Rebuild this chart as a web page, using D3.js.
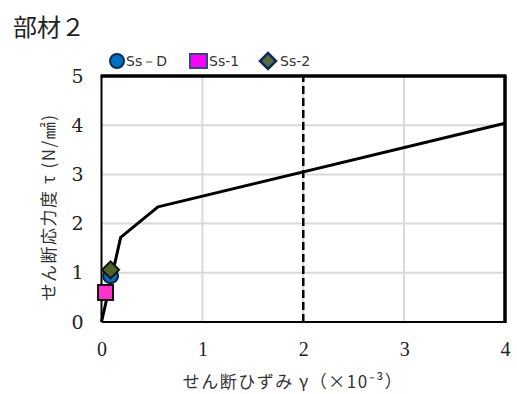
<!DOCTYPE html>
<html><head><meta charset="utf-8">
<script src="https://cdn.jsdelivr.net/npm/d3@7"></script>
<style>body{margin:0;background:#fff}
.tk text{font-family:"Liberation Serif","Times New Roman",Tinos,"DejaVu Serif",serif !important;font-size:20px}
.tk2 text{font-family:"DejaVu Serif",serif !important;font-size:19px}
</style>
</head><body>
<svg id="c" width="517" height="394"></svg>
<script>
const title = "部材２";
const xTicks = [0,1,2,3,4];
const yTicks = [0,1,2,3,4,5];
const curveX = [0, 0.19, 0.56, 4];
const curveY = [0, 1.72, 2.34, 4.04];
const ssD = {name:"Ss－D", x:0.09, y:0.94};
const ss1 = {name:"Ss-1", x:0.04, y:0.60};
const ss2 = {name:"Ss-2", x:0.09, y:1.06};
const refX = 2;

const svg = d3.select("#c");
const x = d3.scaleLinear().domain([0,4]).range([101.5,505]);
const y = d3.scaleLinear().domain([0,5]).range([322,76]);
const jp = "'Noto Sans CJK JP', sans-serif";

svg.append("text").attr("x",13).attr("y",36).style("font-family",jp).style("font-size","24px").attr("fill","#222").text(title);

// grid
svg.append("g").selectAll("line").data(yTicks.filter(d=>d>0&&d<5)).join("line")
 .attr("x1",x(0)).attr("x2",x(4)).attr("y1",d=>y(d)).attr("y2",d=>y(d)).attr("stroke","#d9d9d9").attr("stroke-width",2);
svg.append("g").selectAll("line").data(xTicks.filter(d=>d>0&&d<4)).join("line")
 .attr("x1",d=>x(d)).attr("x2",d=>x(d)).attr("y1",y(0)).attr("y2",y(5)).attr("stroke","#d9d9d9").attr("stroke-width",2);

// axes
const xa = svg.append("g").attr("class","tk").attr("transform",`translate(0,${y(0)})`).call(d3.axisBottom(x).tickValues(xTicks).tickSize(0).tickPadding(20).tickFormat(d3.format("d")));
xa.attr("font-family",null).attr("font-size",null);
xa.select(".domain").remove();
xa.selectAll("text").attr("fill","#222");
const ya = svg.append("g").attr("class","tk2").attr("transform",`translate(${x(0)},0)`).call(d3.axisLeft(y).tickValues(yTicks).tickSize(0).tickPadding(18).tickFormat(d3.format("d")));
ya.attr("font-family",null).attr("font-size",null);
ya.select(".domain").remove();
ya.selectAll("text").attr("fill","#222");

// frame
svg.append("line").attr("x1",x(0)).attr("x2",x(0)).attr("y1",y(0)).attr("y2",y(5)).attr("stroke","#000").attr("stroke-width",2);
svg.append("line").attr("x1",x(0)).attr("x2",x(4)).attr("y1",y(0)).attr("y2",y(0)).attr("stroke","#000").attr("stroke-width",2);
svg.append("line").attr("x1",x(0)-1).attr("x2",x(4)+1.5).attr("y1",y(5)).attr("y2",y(5)).attr("stroke","#000").attr("stroke-width",3.5);
svg.append("line").attr("x1",x(4)).attr("x2",x(4)).attr("y1",y(0)+1).attr("y2",y(5)).attr("stroke","#000").attr("stroke-width",3.5);

// dashed
svg.append("line").attr("x1",x(refX)).attr("x2",x(refX)).attr("y1",y(0)).attr("y2",y(5)).attr("stroke","#000").attr("stroke-width",2.5).attr("stroke-dasharray","8,4");

// curve
svg.append("path").datum(curveX.map((d,i)=>[d,curveY[i]]))
 .attr("d",d3.line().x(d=>x(d[0])).y(d=>y(d[1]))).attr("fill","none").attr("stroke","#000").attr("stroke-width",3).attr("stroke-linejoin","round");

// markers
const dia = s => `M0,${-s}L${s},0L0,${s}L${-s},0Z`;
svg.append("circle").attr("cx",x(ssD.x)).attr("cy",y(ssD.y)).attr("r",7.5).attr("fill","#0070c0").attr("stroke","#0d1f3c").attr("stroke-width",2);
svg.append("rect").attr("x",x(ss1.x)-7.5).attr("y",y(ss1.y)-7.5).attr("width",15).attr("height",15).attr("fill","#ff33cc").attr("stroke","#111").attr("stroke-width",2);
svg.append("path").attr("d",dia(8.5)).attr("transform",`translate(${x(ss2.x)},${y(ss2.y)})`).attr("fill","#4f6228").attr("stroke","#111").attr("stroke-width",2);

// legend
const lg = svg.append("g").style("font-family","'DejaVu Sans', sans-serif").style("font-size","14px").attr("fill","#333");
lg.append("circle").attr("cx",117).attr("cy",61).attr("r",7).attr("fill","#0070c0").attr("stroke","#0d2a5c").attr("stroke-width",2);
lg.append("text").attr("x",126).attr("y",66).text(ssD.name);
lg.append("rect").attr("x",190).attr("y",54).attr("width",17).attr("height",14).attr("fill","#ff00ff").attr("stroke","#2f4a80").attr("stroke-width",2);
lg.append("text").attr("x",209).attr("y",66).text(ss1.name);
lg.append("path").attr("d",dia(8)).attr("transform","translate(268,61)").attr("fill","#5a6b3a").attr("stroke","#0d2a5c").attr("stroke-width",2.5);
lg.append("text").attr("x",280).attr("y",66).text(ss2.name);

// axis titles
svg.append("text").attr("x",293).attr("y",388).attr("text-anchor","middle").style("font-family",jp).style("font-size","17px").style("letter-spacing","1.5px").attr("fill","#333")
 .text("せん断ひずみ γ（×10⁻³）");
svg.append("text").attr("transform","translate(55,207) rotate(-90)").attr("text-anchor","middle").style("font-family",jp).style("font-size","17px").style("letter-spacing","1.5px").attr("fill","#333")
 .text("せん断応力度 τ (N/㎟)");
</script>
</body></html>
